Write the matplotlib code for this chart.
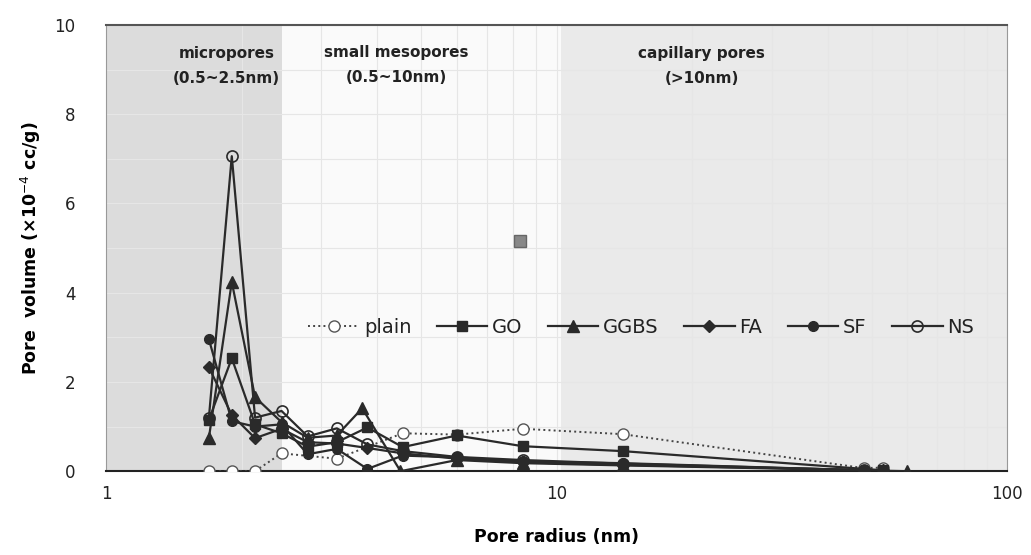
import numpy as np
import matplotlib
matplotlib.use("Agg")
import matplotlib.pyplot as plt
from matplotlib.ticker import LogLocator, NullFormatter, FixedLocator

# ---- data ----
plain_x = [1.69, 1.90, 2.14, 2.45, 3.25, 4.55, 6.0, 8.4, 14.0, 48.0, 53.0]
plain_y = [0.00, 0.00, 0.00, 0.40, 0.28, 0.85, 0.82, 0.95, 0.83, 0.07, 0.08]

go_x = [1.69, 1.90, 2.14, 2.45, 2.80, 3.25, 3.80, 4.55, 6.0, 8.4, 14.0, 53.0]
go_y = [1.15, 2.53, 1.05, 0.85, 0.55, 0.65, 0.98, 0.54, 0.80, 0.56, 0.45, 0.02]

ggbs_x = [1.69, 1.90, 2.14, 2.45, 2.80, 3.25, 3.70, 4.50, 6.0, 8.4, 14.0, 60.0]
ggbs_y = [0.74, 4.24, 1.66, 1.10, 0.75, 0.80, 1.41, 0.00, 0.25, 0.18, 0.13, 0.00]

fa_x = [1.69, 1.90, 2.14, 2.45, 2.80, 3.25, 3.80, 4.55, 6.0, 8.4, 14.0, 53.0]
fa_y = [2.33, 1.26, 0.74, 0.95, 0.65, 0.62, 0.52, 0.40, 0.28, 0.20, 0.14, 0.02]

sf_x = [1.69, 1.90, 2.14, 2.45, 2.80, 3.25, 3.80, 4.55, 6.0, 8.4, 14.0, 48.0]
sf_y = [2.96, 1.12, 1.00, 1.05, 0.38, 0.50, 0.05, 0.35, 0.31, 0.22, 0.18, 0.02]

ns_x = [1.69, 1.90, 2.14, 2.45, 2.80, 3.25, 3.80, 4.55, 6.0, 8.4, 14.0, 48.0]
ns_y = [1.19, 7.06, 1.20, 1.35, 0.78, 0.96, 0.60, 0.45, 0.32, 0.25, 0.17, 0.02]

stray_x = [8.3]
stray_y = [5.15]

regions = [(1, 2.45, '#dcdcdc'), (2.45, 10.2, '#fafafa'), (10.2, 100, '#eaeaea')]
region_labels = ["micropores\n(0.5~2.5nm)", "small mesopores\n(0.5~10nm)", "capillary pores\n(>10nm)"]
region_label_x = [1.85, 4.4, 21.0]
region_label_y = [9.08, 9.1, 9.08]

x_ticks = [1, 10, 100]
y_ticks = [0, 2, 4, 6, 8, 10]

# ---- figure ----
fig = plt.figure(figsize=(10.31, 5.55), dpi=100)
ax = fig.add_axes([0.103, 0.151, 0.874, 0.804])
ax.set_xscale('log')
ax.set_xlim(1, 100)
ax.set_ylim(0, 10)

for (a, b, c) in regions:
    ax.axvspan(a, b, color=c, zorder=0, lw=0)

ax.xaxis.set_minor_locator(LogLocator(base=10, subs=np.arange(2, 10)))
ax.xaxis.set_minor_formatter(NullFormatter())
ax.yaxis.set_minor_locator(FixedLocator(np.arange(0, 11, 1)))
ax.grid(True, which='both', color='#e6e6e6', lw=0.8, zorder=0.5)
ax.set_axisbelow(True)

ax.set_xticks(x_ticks)
ax.set_xticklabels([str(t) for t in x_ticks])
ax.set_yticks(y_ticks)
ax.set_yticklabels([str(t) for t in y_ticks])
ax.tick_params(axis='x', which='both', length=0, labelsize=12, colors='#222222', pad=10)
ax.tick_params(axis='y', which='both', length=0, labelsize=12, colors='#222222', pad=22)

for s in ['left', 'right']:
    ax.spines[s].set_color('#999999')
    ax.spines[s].set_linewidth(0.8)
ax.spines['top'].set_color('#555555')
ax.spines['top'].set_linewidth(1.5)
ax.spines['bottom'].set_color('#222222')
ax.spines['bottom'].set_linewidth(1.5)

lc = '#2a2a2a'
ax.plot(plain_x, plain_y, ls=':', color='#444444', lw=1.4, marker='o', ms=8,
        mfc='white', mec='#555555', mew=1.0, label='plain', zorder=3)
ax.plot(go_x, go_y, ls='-', color=lc, lw=1.6, marker='s', ms=7, mfc=lc, mec=lc, label='GO', zorder=4)
ax.plot(ggbs_x, ggbs_y, ls='-', color=lc, lw=1.6, marker='^', ms=8, mfc=lc, mec=lc, label='GGBS', zorder=4)
ax.plot(fa_x, fa_y, ls='-', color=lc, lw=1.6, marker='D', ms=6, mfc=lc, mec=lc, label='FA', zorder=4)
ax.plot(sf_x, sf_y, ls='-', color=lc, lw=1.6, marker='o', ms=7, mfc=lc, mec=lc, label='SF', zorder=4)
ax.plot(ns_x, ns_y, ls='-', color=lc, lw=1.6, marker='o', ms=8, mfc='none', mec=lc, mew=1.2, label='NS', zorder=4)
ax.plot(stray_x, stray_y, ls='none', marker='s', ms=8, mfc='#888888', mec='#666666', zorder=4)

leg = ax.legend(loc='center left', bbox_to_anchor=(0.205, 0.323), ncol=6, frameon=False,
                fontsize=14, handlelength=2.6, handletextpad=0.25, columnspacing=1.3)
for t in leg.get_texts():
    t.set_color('#222222')

for lab, xx, yy in zip(region_labels, region_label_x, region_label_y):
    ax.text(xx, yy, lab, ha='center', va='center', fontsize=11, fontweight='bold',
            family='DejaVu Sans', color='#222222', linespacing=1.8)

ax.set_xlabel('Pore radius (nm)', fontsize=12.5, fontweight='bold', labelpad=18)
ax.set_ylabel('Pore  volume (×10$^{-4}$ cc/g)', fontsize=12.5, fontweight='bold', labelpad=8)

fig.savefig('out.png', dpi=100)
